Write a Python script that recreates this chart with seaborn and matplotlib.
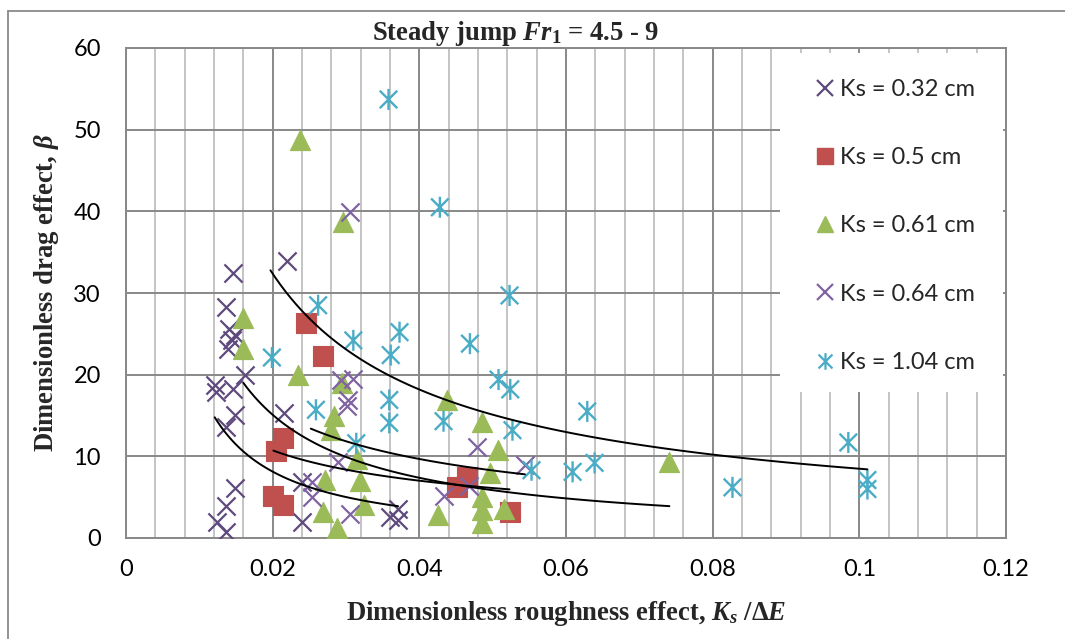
import numpy as np
import matplotlib
matplotlib.use("Agg")
import matplotlib.pyplot as plt
import seaborn as sns
from matplotlib.path import Path
from matplotlib.patches import Rectangle
from matplotlib.lines import Line2D

# ---------------- data ----------------
ks032_x = [0.0146, 0.0220, 0.0136, 0.0141, 0.0149, 0.0144, 0.0139, 0.0162, 0.0121, 0.0123,
           0.0146, 0.0149, 0.0136, 0.0216, 0.0149, 0.0136, 0.0124, 0.0136, 0.0240, 0.0240,
           0.0360, 0.0371, 0.0371]
ks032_y = [32.4, 33.9, 28.3, 25.6, 24.9, 24.3, 23.1, 20.0, 18.7, 17.9,
           18.2, 15.1, 13.6, 15.3, 6.1, 3.9, 2.0, 0.7, 6.9, 2.0,
           2.6, 3.6, 2.2]

ks05_x = [0.0245, 0.0269, 0.0214, 0.0204, 0.0201, 0.0214, 0.0465, 0.0451, 0.0523]
ks05_y = [26.3, 22.3, 12.2, 10.7, 5.1, 4.0, 7.5, 6.2, 3.2]

ks061_x = [0.0237, 0.0296, 0.0159, 0.0160, 0.0235, 0.0295, 0.0284, 0.0280, 0.0315, 0.0271,
           0.0319, 0.0324, 0.0268, 0.0288, 0.0426, 0.0438, 0.0485, 0.0507, 0.0497, 0.0741,
           0.0485, 0.0485, 0.0485, 0.0516]
ks061_y = [48.7, 38.7, 27.0, 23.2, 19.9, 19.0, 14.9, 13.2, 9.7, 7.1,
           7.0, 4.0, 3.2, 1.2, 2.8, 16.9, 14.2, 10.8, 8.0, 9.3,
           5.0, 3.4, 1.8, 3.6]

ks064_x = [0.0253, 0.0253, 0.0289, 0.0293, 0.0310, 0.0303, 0.0301, 0.0305, 0.0305, 0.0433,
           0.0468, 0.0478, 0.0544]
ks064_y = [6.9, 5.0, 9.3, 19.3, 19.5, 16.9, 16.2, 3.0, 39.9, 5.2,
           6.4, 11.1, 8.9]

ks104_x = [0.0358, 0.0428, 0.0523, 0.0262, 0.0373, 0.0310, 0.0469, 0.0361, 0.0199, 0.0508,
           0.0524, 0.0359, 0.0259, 0.0629, 0.0433, 0.0359, 0.0527, 0.0985, 0.0314, 0.0639,
           0.0553, 0.0609, 0.0827, 0.1011, 0.1011]
ks104_y = [53.7, 40.5, 29.7, 28.5, 25.2, 24.2, 23.8, 22.4, 22.1, 19.4,
           18.2, 16.9, 15.7, 15.5, 14.3, 14.1, 13.2, 11.7, 11.6, 9.2,
           8.3, 8.1, 6.2, 7.1, 6.0]

series_labels = ["Ks = 0.32 cm", "Ks = 0.5 cm", "Ks = 0.61 cm", "Ks = 0.64 cm", "Ks = 1.04 cm"]

# power trend lines y = a * x^b
trend_a = [0.0773, 0.9755, 0.2652, 1.007, 1.249]
trend_b = [-1.190, -0.613, -1.033, -0.703, -0.832]
trend_xmin = [0.0121, 0.0201, 0.0160, 0.0252, 0.0197]
trend_xmax = [0.0371, 0.0523, 0.0741, 0.0544, 0.1011]

x_ticks = [0, 0.02, 0.04, 0.06, 0.08, 0.10, 0.12]
x_tick_labels = ["0", "0.02", "0.04", "0.06", "0.08", "0.1", "0.12"]
y_ticks = [0, 10, 20, 30, 40, 50, 60]
y_tick_labels = ["0", "10", "20", "30", "40", "50", "60"]

# ---------------- style ----------------
sns.set_style("white")
plt.rcParams["font.family"] = ["Lato", "DejaVu Sans"]
plt.rcParams["mathtext.fontset"] = "custom"
plt.rcParams["mathtext.rm"] = "Liberation Serif:bold"
plt.rcParams["mathtext.bf"] = "Liberation Serif:bold"
plt.rcParams["mathtext.it"] = "Liberation Serif:bold:italic"

W, H = 1065, 639
fig = plt.figure(figsize=(W / 100, H / 100), dpi=100)
fig.patch.set_facecolor("white")
ax = fig.add_axes([126 / W, (H - 538) / H, 880 / W, 490 / H])

MAJ = "#888888"
MIN = "#C4C4C4"

# gridlines
for xv in np.arange(0, 0.1201, 0.004):
    major = abs(round(xv / 0.02) * 0.02 - xv) < 1e-9
    ax.axvline(xv, color=MAJ if major else MIN, lw=1.4, zorder=0.5)
for yv in y_ticks:
    ax.axhline(yv, color=MAJ, lw=1.4, zorder=0.6)

# white legend area covering the grid
ax.add_patch(Rectangle((0.743, 0.298), 0.2535, 0.692, transform=ax.transAxes,
                       facecolor="white", edgecolor="none", zorder=1))

# asterisk marker (x with a vertical bar)
star = Path([(-1, -1), (1, 1), (-1, 1), (1, -1), (0, -1.2), (0, 1.2)],
            [Path.MOVETO, Path.LINETO, Path.MOVETO, Path.LINETO, Path.MOVETO, Path.LINETO])

c032, c05, c061, c064, c104 = "#5F4A7E", "#C0504D", "#9BBB59", "#8064A2", "#4BACC6"

sns.scatterplot(x=ks032_x, y=ks032_y, marker="x", s=170, color=c032, linewidth=1.6, ax=ax, zorder=3)
sns.scatterplot(x=ks05_x, y=ks05_y, marker="s", s=190, color=c05, edgecolor=c05, linewidth=0.8, ax=ax, zorder=3)
sns.scatterplot(x=ks061_x, y=ks061_y, marker="^", s=210, color=c061, edgecolor=c061, linewidth=0.8, ax=ax, zorder=3)
sns.scatterplot(x=ks064_x, y=ks064_y, marker="x", s=170, color=c064, linewidth=1.6, ax=ax, zorder=3)
sns.scatterplot(x=ks104_x, y=ks104_y, marker=star, s=230, color=c104, facecolor="none",
                edgecolor=c104, linewidth=1.7, ax=ax, zorder=3)

for a, b, x0, x1 in zip(trend_a, trend_b, trend_xmin, trend_xmax):
    xs = np.linspace(x0, x1, 120)
    sns.lineplot(x=xs, y=a * xs ** b, color="black", lw=1.4, ax=ax, estimator=None, zorder=4)

ax.set_xlim(0, 0.12)
ax.set_ylim(0, 60)
ax.set_xticks(x_ticks)
ax.set_xticklabels(x_tick_labels)
ax.set_yticks(y_ticks)
ax.set_yticklabels(y_tick_labels)
ax.tick_params(axis="both", direction="out", color=MAJ, width=1.4, labelsize=17,
               labelcolor="black")
ax.tick_params(axis="y", length=6, pad=12)
ax.tick_params(axis="x", length=6, pad=9)
for sp in ax.spines.values():
    sp.set_color(MAJ)
    sp.set_linewidth(1.4)
    sp.set_zorder(0.7)

ax.set_xlabel("Dimensionless roughness effect, $K_s$ /$\\mathit{ΔE}$",
              family="Liberation Serif", weight="bold", fontsize=19.2, labelpad=14)
ax.set_ylabel("Dimensionless drag effect, $β$",
              family="Liberation Serif", weight="bold", fontsize=19.2, labelpad=9)

fig.text(516 / W, 1 - 34 / H, "Steady jump $Fr_1$ = 4.5 - 9", ha="center", va="center",
         family="Liberation Serif", weight="bold", fontsize=19.2)

# legend
mk = dict(linestyle="none", markersize=12)
handles = [
    Line2D([], [], marker="x", color=c032, markeredgewidth=1.6, **mk),
    Line2D([], [], marker="s", color=c05, **mk),
    Line2D([], [], marker="^", color=c061, **mk),
    Line2D([], [], marker="x", color=c064, markeredgewidth=1.6, **mk),
    Line2D([], [], marker=star, color=c104, markerfacecolor="none", markeredgewidth=1.6, **mk),
]
leg = ax.legend(handles, series_labels, loc="upper left",
                bbox_to_anchor=(816 / W, 1 - 79 / H), bbox_transform=fig.transFigure,
                frameon=False, borderpad=0, borderaxespad=0, handlelength=0.8,
                handletextpad=0.2, labelspacing=2.0, prop={"family": "Lato", "size": 17})
leg.set_zorder(5)

# chart-area frame
fig.add_artist(Line2D([8 / W, 8 / W], [0, 1 - 11 / H], color="#8A8A8A", lw=1.3,
                      transform=fig.transFigure))
fig.add_artist(Line2D([8 / W, 1], [1 - 11 / H, 1 - 11 / H], color="#8A8A8A", lw=1.3,
                      transform=fig.transFigure))

fig.savefig("out.png", dpi=100)
